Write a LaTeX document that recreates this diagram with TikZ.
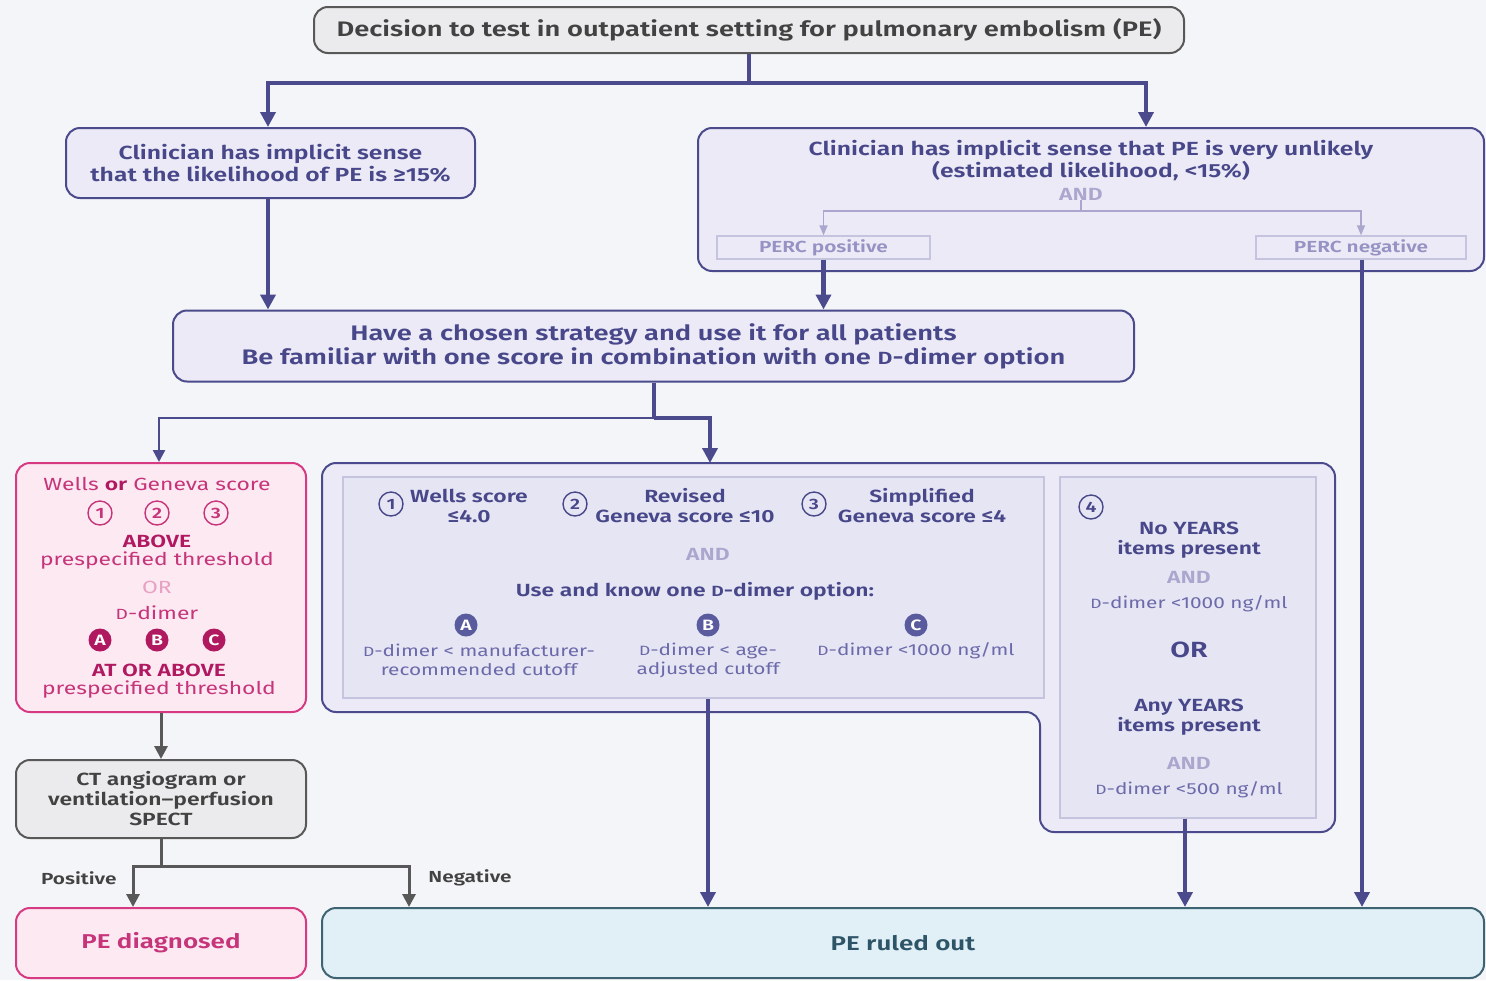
\documentclass[tikz,border=0pt]{standalone}
\usepackage{fontspec}
\IfFontExistsTF{Fira Sans SemiBold}
  {\setmainfont{Fira Sans}[BoldFont={Fira Sans SemiBold},FakeStretch=1.3]}
  {\setmainfont{Fira Sans}[FakeStretch=1.3]}
\usetikzlibrary{arrows.meta}
\definecolor{bgc}{RGB}{244,245,248}
\definecolor{indigo}{RGB}{75,74,140}
\definecolor{indtxt}{RGB}{72,71,138}
\definecolor{indlight}{RGB}{108,106,170}
\definecolor{lavfill}{RGB}{235,234,246}
\definecolor{innerfill}{RGB}{229,229,243}
\definecolor{innerdraw}{RGB}{196,196,222}
\definecolor{andc}{RGB}{170,166,206}
\definecolor{percc}{RGB}{150,146,196}
\definecolor{pinkdraw}{RGB}{214,58,130}
\definecolor{pinkfill}{RGB}{252,233,242}
\definecolor{pinktxt}{RGB}{198,52,122}
\definecolor{pinkdark}{RGB}{176,24,96}
\definecolor{pinklight}{RGB}{232,160,195}
\definecolor{greyline}{RGB}{88,88,88}
\definecolor{greyfill}{RGB}{235,235,237}
\definecolor{greytxt}{RGB}{66,66,66}
\definecolor{bluefill}{RGB}{224,240,246}
\definecolor{bluedraw}{RGB}{62,100,116}
\definecolor{bluetxt}{RGB}{46,84,104}
\definecolor{circfill}{RGB}{90,90,158}
\newcommand\smD{\scalebox{0.84}{D}}
\newcommand\fsT{\fontsize{10.5}{12}\selectfont}
\newcommand\fsA{\fontsize{9.5}{11}\selectfont}
\newcommand\fsB{\fontsize{8.8}{10}\selectfont}
\newcommand\fsC{\fontsize{8}{9.5}\selectfont}
\tikzset{
  basebox/.style={rectangle, rounded corners=7pt, line width=1pt, inner sep=0pt, align=center},
  greybox/.style={basebox, draw=greyline, fill=greyfill, text=greytxt, font=\fsA\bfseries},
  lavbox/.style={basebox, draw=indigo, fill=lavfill, text=indtxt, font=\fsA\bfseries},
  pinkbox/.style={basebox, draw=pinkdraw, fill=pinkfill, text=pinktxt},
  bluebox/.style={basebox, draw=bluedraw, fill=bluefill, text=bluetxt, font=\fontsize{10}{12}\selectfont\bfseries},
  innerbox/.style={rectangle, draw=innerdraw, fill=innerfill, line width=0.6pt, inner sep=0pt},
  percbox/.style={rectangle, draw=innerdraw, line width=0.7pt, inner sep=0pt, text=percc, font=\fsC\bfseries},
  txt/.style={inner sep=0pt, align=center, text=indtxt, font=\fsB\bfseries},
  lighttxt/.style={inner sep=0pt, align=center, text=indlight, font=\fsC},
  andtxt/.style={inner sep=0pt, text=andc, font=\fsB\bfseries},
  ptxt/.style={inner sep=0pt, align=center, text=pinktxt, font=\fsB},
  pbold/.style={inner sep=0pt, align=center, text=pinkdark, font=\fsB\bfseries},
  numc/.style={circle, draw=#1, line width=0.7pt, minimum size=12pt, inner sep=0pt, text=#1, font=\fontsize{7.5}{7.5}\selectfont\bfseries},
  letc/.style={circle, fill=#1, minimum size=11.5pt, inner sep=0pt, text=white, font=\fontsize{7.5}{7.5}\selectfont\bfseries},
  thk/.style={draw=indigo, line width=2.2pt, line join=miter, -{Triangle[width=7.5pt,length=7.5pt]}},
  thkline/.style={draw=indigo, line width=2.2pt, line join=miter},
  thn/.style={draw=indigo, line width=1.2pt, line join=miter, -{Triangle[width=6pt,length=6pt]}},
  faint/.style={draw=andc, line width=0.8pt, -{Triangle[width=4pt,length=5pt]}},
  gry/.style={draw=greyline, line width=1.5pt, line join=miter, -{Triangle[width=6.5pt,length=6.5pt]}},
  gryline/.style={draw=greyline, line width=1.5pt, line join=miter},
  lbl/.style={inner sep=0pt, text=greytxt, font=\fsC\bfseries},
}
\begin{document}
\begin{tikzpicture}[x=0.5pt,y=-0.5pt]
\fill[bgc] (0,0) rectangle (1486,980);
\useasboundingbox (0,0) rectangle (1486,980);

% top
\node[greybox, minimum width=435pt, minimum height=23pt, font=\fsT\bfseries] (top) at (749,30)
  {Decision to test in outpatient setting for pulmonary embolism (PE)};

% likelihood boxes
\node[lavbox, minimum width=204.5pt, minimum height=35pt] (L1) at (270.5,163)
  {Clinician has implicit sense\\that the likelihood of PE is ≥15\%};
\node[lavbox, minimum width=393pt, minimum height=71.5pt] (R1) at (1091,199.5) {};
\node[txt, font=\fsA\bfseries] (R1t) at (1091,161)
  {Clinician has implicit sense that PE is very unlikely\\(estimated likelihood, <15\%)};
\node[andtxt] (and1) at (1081,194) {AND};
\node[percbox, minimum width=106.5pt, minimum height=11.5pt] (Ppos) at (823.5,247.5) {PERC positive};
\node[percbox, minimum width=105pt, minimum height=11.5pt] (Pneg) at (1361,247.5) {PERC negative};

% strategy
\node[lavbox, minimum width=480.5pt, minimum height=35.5pt, font=\fontsize{10.5}{12}\selectfont\bfseries] (M) at (653.5,346)
  {Have a chosen strategy and use it for all patients\\Be familiar with one score in combination with one \smD-dimer option};

% big notched box
\draw[draw=indigo, fill=lavfill, line width=1pt, rounded corners=7pt]
  (322,600) -- (322,463) -- (1335,463) -- (1335,832) -- (1040,832) -- (1040,712) -- (322,712) -- cycle;
\coordinate (bigtop) at (710,463);
\node[innerbox, minimum width=350.5pt, minimum height=110.5pt] (IL) at (693.5,587.5) {};
\node[innerbox, minimum width=128pt, minimum height=170.5pt] (IR) at (1188,647.5) {};

% inner left content
\node[numc=indtxt] (c1) at (391,504) {1};
\node[txt] (w1) at (469,506) {Wells score\\≤4.0};
\node[numc=indtxt] (c2) at (575,504) {2};
\node[txt] (w2) at (685,506) {Revised\\Geneva score ≤10};
\node[numc=indtxt] (c3) at (814,504) {3};
\node[txt] (w3) at (922,506) {Simplified\\Geneva score ≤4};
\node[andtxt] (and2) at (708,554) {AND};
\node[txt] (use) at (695,591) {Use and know one \smD-dimer option:};
\node[letc=circfill] (cA) at (466,625) {A};
\node[letc=circfill] (cB) at (708,625) {B};
\node[letc=circfill] (cC) at (916,625) {C};
\node[lighttxt] (dA) at (479,660) {\smD-dimer < manufacturer-\\recommended cutoff};
\node[lighttxt] (dB) at (708,660) {\smD-dimer < age-\\adjusted cutoff};
\node[lighttxt] (dC) at (916,651) {\smD-dimer <1000 ng/ml};

% inner right content
\node[numc=indtxt] (c4) at (1091,507) {4};
\node[txt] (y1) at (1189,540) {No YEARS\\items present};
\node[andtxt] (and3) at (1189,577) {AND};
\node[lighttxt] (y1d) at (1189,604) {\smD-dimer <1000 ng/ml};
\node[inner sep=0pt, text=indtxt, font=\fontsize{11}{11}\selectfont\bfseries] (or2) at (1189,650) {OR};
\node[txt] (y2) at (1189,717) {Any YEARS\\items present};
\node[andtxt] (and4) at (1189,763) {AND};
\node[lighttxt] (y2d) at (1189,790) {\smD-dimer <500 ng/ml};

% pink box
\node[pinkbox, minimum width=145pt, minimum height=124.5pt] (pink) at (161,587.5) {};
\node[ptxt] (pk1) at (157,484) {Wells \textcolor{pinkdark}{\bfseries or} Geneva score};
\node[numc=pinktxt] (p1) at (100,513) {1};
\node[numc=pinktxt] (p2) at (157,513) {2};
\node[numc=pinktxt] (p3) at (216,513) {3};
\node[pbold] (pk2) at (157,541) {ABOVE};
\node[ptxt] (pk3) at (157,560) {prespecified threshold};
\node[inner sep=0pt, text=pinklight, font=\fsB] (pk4) at (157,587) {OR};
\node[ptxt] (pk5) at (157,613) {\smD-dimer};
\node[letc=pinkdark] (pA) at (100,640) {A};
\node[letc=pinkdark] (pB) at (157,640) {B};
\node[letc=pinkdark] (pC) at (214,640) {C};
\node[pbold] (pk6) at (159,670) {AT OR ABOVE};
\node[ptxt] (pk7) at (159,689) {prespecified threshold};

% CT and results
\node[greybox, minimum width=145pt, minimum height=39pt, font=\fsB\bfseries] (CT) at (161,799)
  {CT angiogram or\\ventilation–perfusion\\SPECT};
\node[pinkbox, minimum width=145pt, minimum height=35pt, font=\fontsize{10}{12}\selectfont\bfseries] (PEd) at (161,943) {PE diagnosed};
\node[bluebox, minimum width=581pt, minimum height=35pt] (PEo) at (903,943) {PE ruled out};

% connectors
\draw[thkline] (top.south) -- (749,83) coordinate (tsplit);
\draw[thk] (tsplit) -| (268,0 |- L1.north);
\draw[thk] (tsplit) -| (1146,0 |- R1.north);
\draw[thk] (268,0 |- L1.south) -- (268,0 |- M.north);
\draw[faint] (and1.south) -- (1081,211) -| (Ppos.north);
\draw[faint] (1081,211) -| (Pneg.north);
\draw[thk] (Ppos.south) -- (Ppos.south |- M.north);
\draw[thkline] (654,0 |- M.south) -- (654,418) coordinate (msplit);
\draw[thk] (msplit) -| (bigtop);
\draw[thn] (msplit) -| (159,0 |- pink.north);
\draw[gry] (pink.south) -- (CT.north);
\draw[gryline] (CT.south) -- (161,866) coordinate (csplit);
\draw[gry] (csplit) -| (133,0 |- PEd.north);
\draw[gry] (csplit) -| (409,0 |- PEo.north);
\node[lbl, anchor=east] (pos) at (117,878) {Positive};
\node[lbl, anchor=west] (neg) at (428,878) {Negative};
\draw[thk] (708,0 |- IL.south) -- (708,0 |- PEo.north);
\draw[thk] (1185,0 |- IR.south) -- (1185,0 |- PEo.north);
\draw[thk] (1362,0 |- Pneg.south) -- (1362,0 |- PEo.north);
\end{tikzpicture}
\end{document}
